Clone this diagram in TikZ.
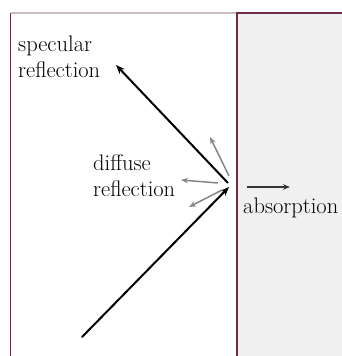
\documentclass[tikz,border=0pt]{standalone}
\usepackage{xcolor}
\usepackage{tikz}
\usetikzlibrary{positioning, arrows.meta, calc}
\definecolor{edgemaroon}{HTML}{6D2B4B}
\definecolor{edgelight}{HTML}{C9BCC3}
\definecolor{panelgray}{HTML}{F0F0F0}
\definecolor{diffgray}{HTML}{858585}
\definecolor{absdark}{HTML}{333333}

\tikzset{
  lbl/.style={anchor=base west, inner sep=0pt, align=left,
              font=\fontsize{22.5}{26}\selectfont},
  ray/.style={line width=2pt, -{Stealth[length=9pt, width=7pt]}},
  diffray/.style={diffgray, line width=1.5pt, -{Stealth[length=7pt, width=5.5pt]}},
  absray/.style={absdark, line width=1.5pt, -{Stealth[length=7pt, width=5.5pt]}}
}

\begin{document}
\begin{tikzpicture}[x=1pt, y=-1pt]
    \useasboundingbox (0,0) rectangle (342,356);
    % panels
    \fill[panelgray] (236,12) rectangle (342,356);
    \draw[edgelight, line width=1.2pt] (10.5,13) -- (236,13);
    \draw[edgemaroon, line width=1.2pt] (10.5,13) -- (10.5,356);
    \draw[edgemaroon, line width=2pt] (342,12.5) -- (237,12.5) -- (237,356);

    % labels (base = last line)
    \node[lbl] (speclbl) at (18,77) {specular\\reflection};
    \node[lbl] (difflbl) at (93,196) {diffuse\\reflection};
    \node[lbl] (abslbl) at (243,213) {absorption};

    % rays
    \coordinate (hit) at (229,187);
    \coordinate (src) at (82,337);
    \coordinate (spectip) at (116,65);
    \draw[ray, line cap=round] (src) -- (hit);
    \draw[ray] ($(hit)+(-1,-4)$) -- (spectip);
    \draw[diffray] (229,176) -- (210,137);
    \draw[diffray] (218,183) -- (181,180);
    \draw[diffray] (222,190) -- (189,207);
    \coordinate (absstart) at (247,187);
    \draw[absray] (absstart) -- ++(43,0);
  \end{tikzpicture}
\end{document}
